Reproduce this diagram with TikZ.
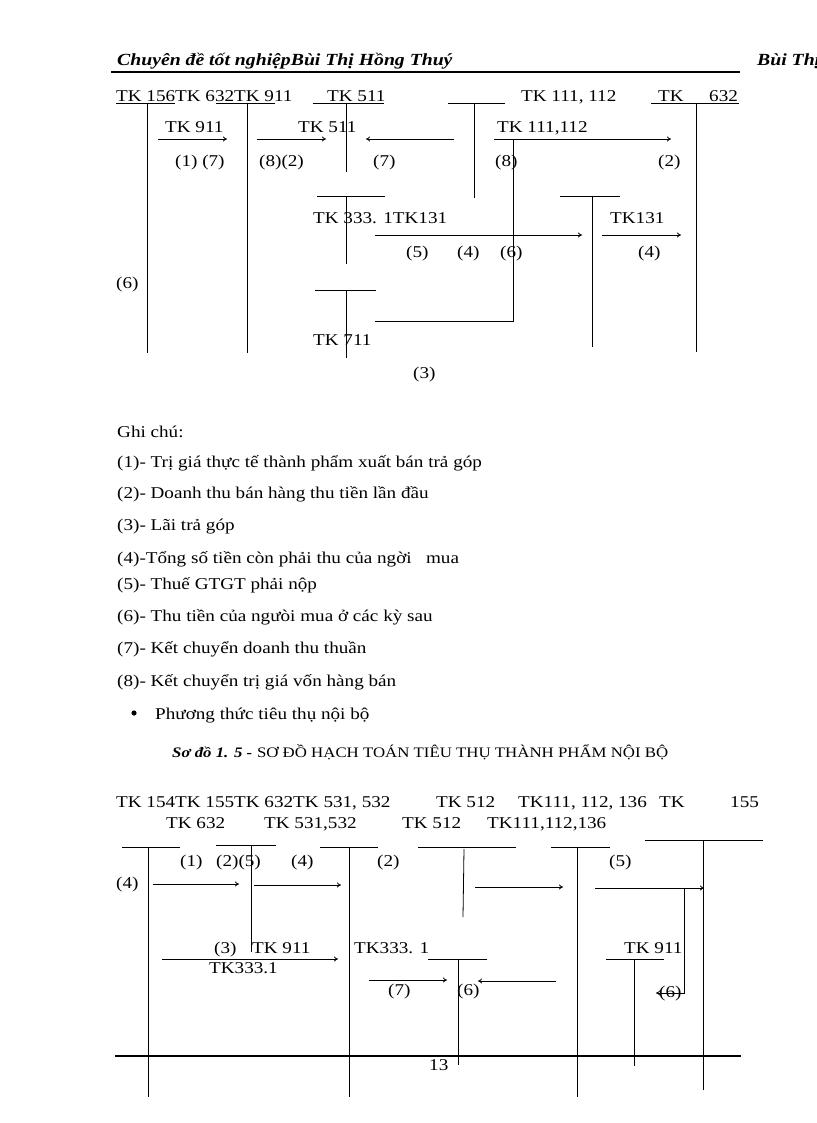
\documentclass[tikz,border=0pt]{standalone}
\usepackage{fontspec}
\setmainfont{Liberation Serif}[FakeStretch=1.16]
\usetikzlibrary{arrows.meta}
\begin{document}
\begin{tikzpicture}[x=1pt,y=-1pt,
  t/.style={anchor=base west,inner sep=0pt,font=\fontsize{16.5}{19}\selectfont},
  ln/.style={line width=0.8pt},
  ar/.style={line width=0.8pt,-{To[length=4pt,width=5pt]}}]
\useasboundingbox (0,0) rectangle (816,1123);
% header
\node[t,font=\fontsize{17}{20}\selectfont\bfseries\itshape] (h1) at (117,66) {Chuyên đề tốt nghiệpBùi Thị Hồng Thuý};
\node[t,font=\fontsize{17}{20}\selectfont\bfseries\itshape] (h2) at (757,66) {Bùi Thị};
\draw[line width=2pt] (111,72) -- (740,72);
% ---- top diagram
\node[t] (a1) at (116,102) {TK 156TK 632TK 911};
\node[t] (a2) at (327,102) {TK 511};
\node[t] (a3) at (521,102) {TK 111, 112};
\node[t] (a4) at (658,102) {TK};
\node[t] (a5) at (709,102) {632};
\foreach \a/\b in {116/175,216/275,313/384,448/505,651/739} \draw[ln] (\a,103) -- (\b,103);
\draw[ln] (147,103) -- (147,353);
\draw[ln] (247,103) -- (247,353);
\draw[ln] (346,103) -- (346,172);
\draw[ln] (474,103) -- (474,198);
\draw[ln] (696,103) -- (696,352);
\node[t] (b1) at (165,133) {TK 911};
\node[t] (b2) at (298,133) {TK 511};
\node[t] (b3) at (497,133) {TK 111,112};
\draw[ar] (158,139) -- (227,139);
\draw[ar] (257,139) -- (326,139);
\draw[ar] (454,139) -- (366,139);
\draw[ar] (494,139) -- (671,139);
\node[t] (c1) at (175,167) {(1) (7)};
\node[t] (c2) at (259,167) {(8)(2)};
\node[t] (c3) at (373,167) {(7)};
\node[t] (c4) at (495,167) {(8)};
\node[t] (c5) at (658,167) {(2)};
\draw[ln] (513,139) -- (513,321) -- (375,321);
\draw[ln] (317,196) -- (385,196); \draw[ln] (346,196) -- (346,264);
\draw[ln] (560,196) -- (620,196); \draw[ln] (592,196) -- (592,347);
\node[t] (d1) at (313,223) {TK 333. 1TK131};
\node[t] (d2) at (610,223) {TK131};
\draw[ar] (375,235) -- (582,235);
\draw[ar] (602,235) -- (681,235);
\node[t] (e1) at (406,257) {(5)};
\node[t] (e2) at (457,257) {(4)};
\node[t] (e3) at (500,257) {(6)};
\node[t] (e4) at (638,257) {(4)};
\node[t] (e5) at (116,288) {(6)};
\draw[ln] (315,290) -- (376,290); \draw[ln] (346,290) -- (346,358);
\node[t] (f1) at (313,345) {TK 711};
\node[t] (f2) at (413,378) {(3)};
% ---- notes
\node[t] (g0) at (117,437) {Ghi chú:};
\node[t] (g1) at (117,467) {(1)- Trị giá thực tế thành phẩm xuất bán trả góp};
\node[t] (g2) at (117,498) {(2)- Doanh thu bán hàng thu tiền lần đầu};
\node[t] (g3) at (117,530) {(3)- Lãi trả góp};
\node[t] (g4) at (117,563) {(4)-Tổng số tiền còn phải thu của ngời\ \ \ mua};
\node[t] (g5) at (117,589) {(5)- Thuế GTGT phải nộp};
\node[t] (g6) at (117,621) {(6)- Thu tiền của ngưòi mua ở các kỳ sau};
\node[t] (g7) at (117,653) {(7)- Kết chuyển doanh thu thuần};
\node[t] (g8) at (117,686) {(8)- Kết chuyển trị giá vốn hàng bán};
\fill (134,713) circle (2.6pt);
\node[t] (g9) at (155,719) {Phương thức tiêu thụ nội bộ};
\node[t] (cap) at (172,757) {{\fontsize{14.5}{18}\selectfont\bfseries\itshape Sơ đồ 1. 5 -} {\fontsize{14.5}{17}\selectfont SƠ ĐỒ HẠCH TOÁN TIÊU THỤ THÀNH PHẨM NỘI BỘ}};
% ---- bottom diagram
\node[t] (p1) at (116,807) {TK 154TK 155TK 632TK 531, 532};
\node[t] (p2) at (436,807) {TK 512};
\node[t] (p3) at (518,807) {TK111, 112, 136};
\node[t] (p4) at (659,807) {TK};
\node[t] (p5) at (730,807) {155};
\node[t] (q1) at (166,828) {TK 632};
\node[t] (q2) at (264,828) {TK 531,532};
\node[t] (q3) at (402,828) {TK 512};
\node[t] (q4) at (487,828) {TK111,112,136};
\draw[ln] (122,847) -- (180,847);
\draw[ln] (216,845) -- (276,845);
\draw[ln] (320,847) -- (378,847);
\draw[ln] (418,847) -- (516,847);
\draw[ln] (551,847) -- (610,847);
\draw[ln] (645,840) -- (763,840);
\draw[ln] (148,847) -- (148,1097);
\draw[ln] (251,845) -- (251,952);
\draw[ln] (349,847) -- (349,1097);
\draw[ln] (464,849) -- (463,917);
\draw[ln] (577,847) -- (577,1097);
\draw[ln] (703,840) -- (703,1090);
\node[t] (r1) at (180,866) {(1)};
\node[t] (r2) at (216,866) {(2)(5)};
\node[t] (r3) at (291,866) {(4)};
\node[t] (r4) at (377,866) {(2)};
\node[t] (r5) at (609,866) {(5)};
\node[t] (r6) at (116,888) {(4)};
\draw[ar] (153,884) -- (239,884);
\draw[ar] (254,885) -- (341,885);
\draw[ar] (475,887) -- (563,887);
\draw[ar] (595,888) -- (704,888);
\draw[ar] (684,888) -- (684,993) -- (656,993);
\node[t] (s1) at (214,953) {(3)};
\node[t] (s2) at (252,953) {TK 911};
\node[t] (s3) at (354,953) {TK333. 1};
\node[t] (s4) at (624,953) {TK 911};
\draw[ar] (162,959) -- (338,959);
\node[t] (s5) at (209,973) {TK333.1};
\draw[ln] (428,959) -- (487,959); \draw[ln] (458,959) -- (458,1065);
\draw[ln] (606,959) -- (664,959); \draw[ln] (634,959) -- (634,1066);
\draw[ar] (369,980) -- (447,980);
\draw[ar] (556,981) -- (478,981);
\node[t] (u1) at (388,995) {(7)};
\node[t] (u2) at (457,995) {(6)};
\node[t] (u3) at (659,997) {(6)};
\draw[line width=2pt] (115,1056) -- (741,1056);
\node[t] (pg) at (429,1070) {13};
\end{tikzpicture}
\end{document}
